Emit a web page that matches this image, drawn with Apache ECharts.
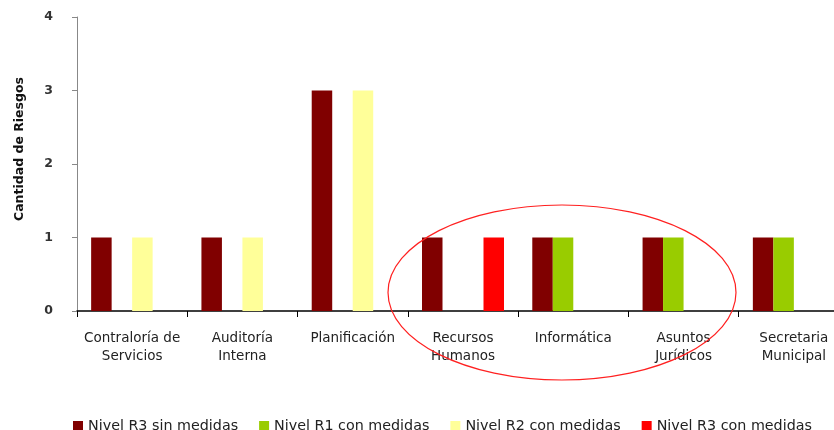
<!DOCTYPE html>
<html>
<head>
<meta charset="utf-8">
<script src="https://cdn.jsdelivr.net/npm/echarts@6/dist/echarts.min.js"></script>
<style>
html,body{margin:0;padding:0;background:#fff;overflow:hidden;}
#chart{width:849px;height:430px;}
</style>
</head>
<body>
<div id="chart"></div>
<script>
const categories = ['Contraloría de\nServicios','Auditoría\nInterna','Planificación','Recursos\nHumanos','Informática','Asuntos\nJurídicos','Secretaria\nMunicipal'];
const seriesNames = ['Nivel R3 sin medidas','Nivel R1 con medidas','Nivel R2 con medidas','Nivel R3 con medidas'];
const r3SinMedidas = [1,1,3,1,1,1,1];
const r1ConMedidas = [0,0,0,0,1,1,1];
const r2ConMedidas = [1,1,3,0,0,0,0];
const r3ConMedidas = [0,0,0,1,0,0,0];
const yTicks = [0,1,2,3,4];
const yAxisTitle = 'Cantidad de Riesgos';

const colors = ['#800000','#99CC00','#FFFF99','#FF0000'];
const values = [r3SinMedidas, r1ConMedidas, r2ConMedidas, r3ConMedidas];
const font = 'DejaVu Sans';

const chart = echarts.init(document.getElementById('chart'), null, {renderer:'canvas'});
chart.setOption({
  animation:false,
  backgroundColor:'#fff',
  grid:{left:77, top:17, bottom:119, right:0, containLabel:false},
  legend:{
    left:68, top:414, itemWidth:10, itemHeight:10, itemGap:21, icon:'rect',
    textStyle:{fontFamily:font, fontSize:14.3, color:'#222'},
    data:seriesNames
  },
  xAxis:{
    type:'category', data:categories, boundaryGap:true,
    axisLine:{show:true, lineStyle:{color:'#000', width:1.5}},
    axisTick:{show:true, length:6, alignWithLabel:false, lineStyle:{color:'#000'}},
    axisLabel:{interval:0, margin:18, fontFamily:font, fontSize:13.5, color:'#222', lineHeight:18}
  },
  yAxis:{
    type:'value', min:yTicks[0], max:yTicks[yTicks.length-1], interval:1,
    splitLine:{show:false},
    axisLine:{show:true, lineStyle:{color:'#888', width:1}},
    axisTick:{show:true, length:5, lineStyle:{color:'#888'}},
    axisLabel:{margin:24, fontFamily:font, fontSize:12.5, fontWeight:'bold', color:'#333'}
  },
  series: seriesNames.map((n,i)=>({
    name:n, type:'bar', data:values[i], barWidth:20.5, barGap:'0%',
    itemStyle:{color:colors[i]}
  })),
  graphic:[
    {type:'text', x:20, y:149, rotation:Math.PI/2,
     style:{text:yAxisTitle, fontFamily:font, fontSize:12.5, fontWeight:'bold', fill:'#111', align:'center', verticalAlign:'middle'}},
    {type:'ellipse', shape:{cx:562, cy:292.5, rx:174, ry:87.5},
     style:{fill:'none', stroke:'#FF2020', lineWidth:1.2}, z:100}
  ]
});
</script>
</body>
</html>
